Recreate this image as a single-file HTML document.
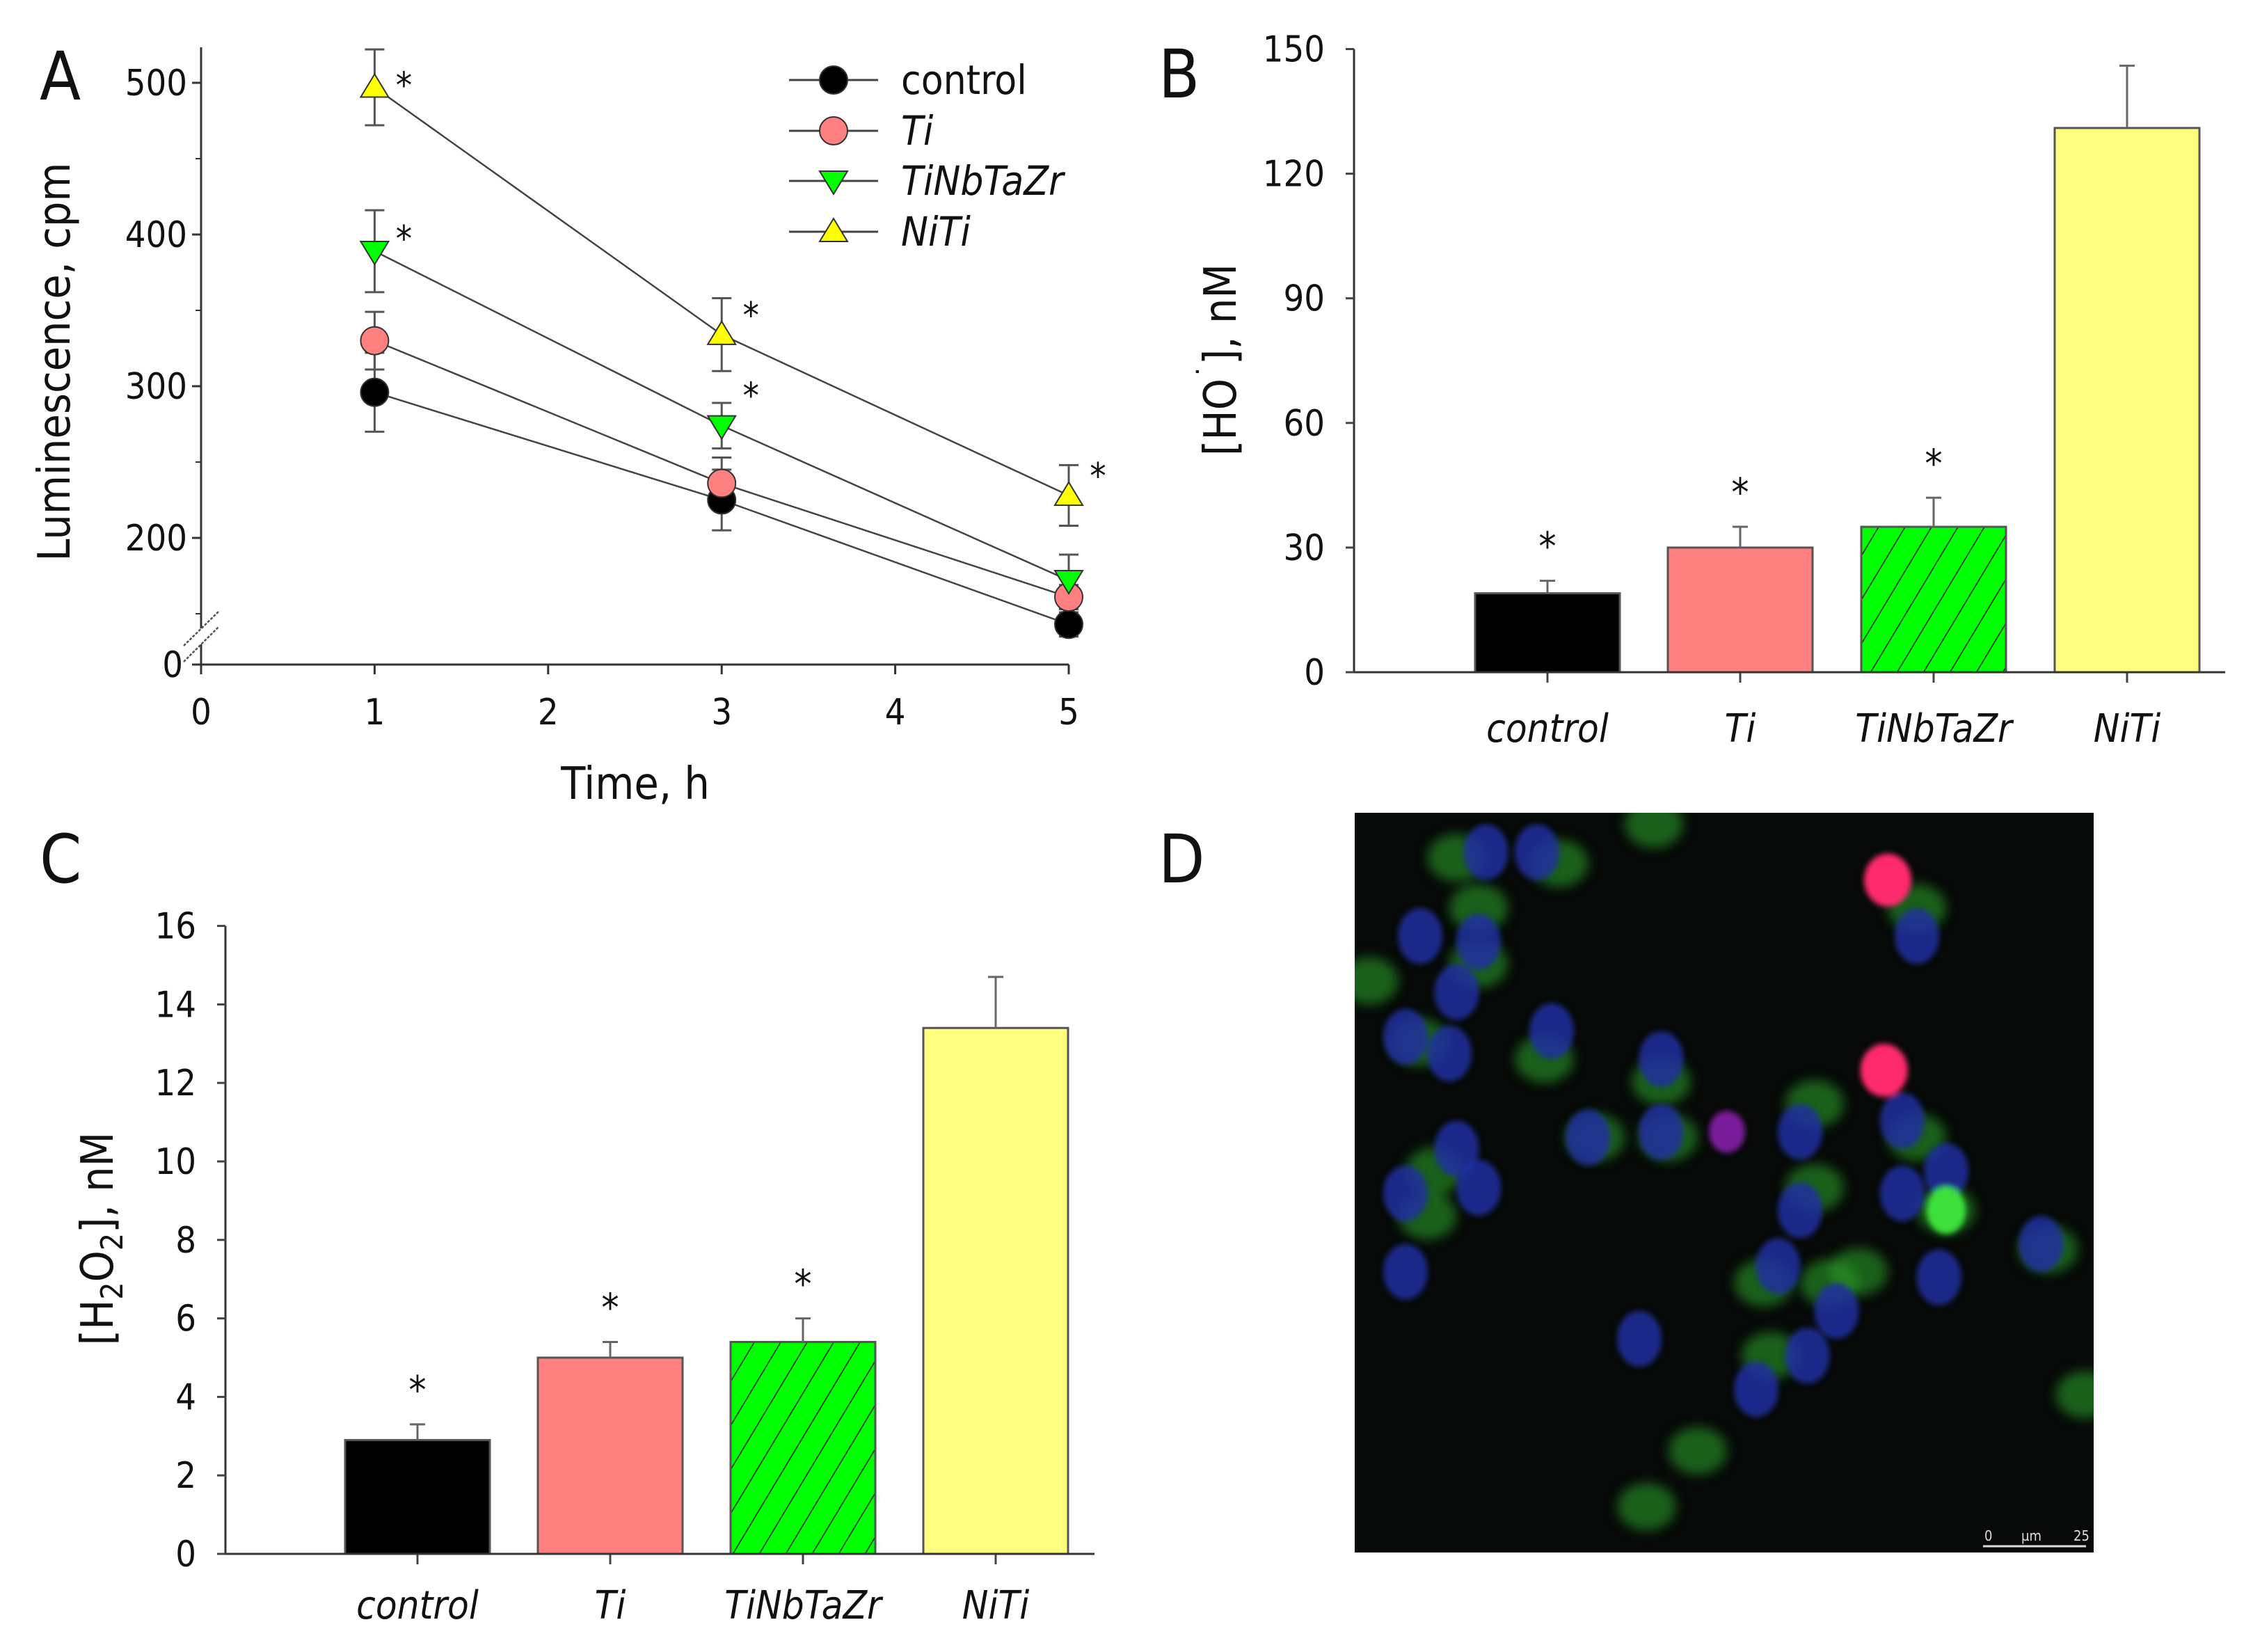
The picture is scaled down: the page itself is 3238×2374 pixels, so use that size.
<!DOCTYPE html>
<html><head><meta charset="utf-8">
<style>
html,body{margin:0;padding:0;background:#fff;}
svg{display:block;}
text{font-family:"DejaVu Sans Condensed","DejaVu Sans","Liberation Sans",sans-serif;fill:#111;}
</style></head>
<body>
<svg id="fig" xmlns="http://www.w3.org/2000/svg" width="3238" height="2374" viewBox="0 0 3238 2374">
<defs>
<pattern id="hatch" patternUnits="userSpaceOnUse" width="38" height="62" patternTransform="skewX(-31)" >
<rect width="38" height="62" fill="#00ff00"/>
<line x1="1" y1="0" x2="1" y2="62" stroke="#1a3a1a" stroke-width="2"/>
</pattern>
<filter id="blur6"><feGaussianBlur stdDeviation="8"/></filter>
<filter id="blur3"><feGaussianBlur stdDeviation="4"/></filter>
<clipPath id="imgclip"><rect x="1947" y="1168" width="1062" height="1063"/></clipPath>
</defs>
<g id="panelA"></g>
<g id="panelB"></g>
<g id="panelC"></g>
<g id="panelD"></g>
</svg>
<script>
// ---- Panel A data ----
const timesA = [1, 3, 5];
const seriesNames = ["control", "Ti", "TiNbTaZr", "NiTi"];
const controlVals = [296, 225, 143];
const tiVals = [330, 236, 161];
const tnbVals = [389, 274, 172];
const nitiVals = [497, 334, 228];
const controlErr = [26, 20, 8];
const tiErr = [19, 17, 8];
const tnbErr = [27, 15, 17];
const nitiErr = [25, 24, 20];
const starsA = [[false,false,false],[false,false,false],[true,true,false],[true,true,true]];
const xTicksA = [0, 1, 2, 3, 4, 5];
const yTicksA = [200, 300, 400, 500];
const yMinorA = [150, 250, 350, 450];
// ---- Panel B data ----
const catsB = ["control", "Ti", "TiNbTaZr", "NiTi"];
const valsB = [19, 30, 35, 131];
const errB = [3, 5, 7, 15];
const starsB = [true, true, true, false];
const yTicksB = [0, 30, 60, 90, 120, 150];
// ---- Panel C data ----
const catsC = ["control", "Ti", "TiNbTaZr", "NiTi"];
const valsC = [2.9, 5.0, 5.4, 13.4];
const errC = [0.4, 0.4, 0.6, 1.3];
const starsC = [true, true, true, false];
const yTicksC = [0, 2, 4, 6, 8, 10, 12, 14, 16];

const NS = "http://www.w3.org/2000/svg";
function mk(parent, tag, attrs, txt){
  const e = document.createElementNS(NS, tag);
  for (const k in attrs) e.setAttribute(k, attrs[k]);
  if (txt !== undefined) e.textContent = txt;
  parent.appendChild(e);
  return e;
}
const fills = ["#000000", "#ff8080", "#00ff00", "#ffff00"];
const markers = ["circle", "circle", "tdown", "tup"];

function marker(g, type, cx, cy, fill, r){
  let el;
  if (type === "circle") el = mk(g, "circle", {cx:cx, cy:cy, r:r, fill:fill, stroke:"#333", "stroke-width":2});
  else if (type === "tdown") el = mk(g, "polygon", {points:`${cx-r},${cy-r*0.7} ${cx+r},${cy-r*0.7} ${cx},${cy+r*0.95}`, fill:fill, stroke:"#333", "stroke-width":2});
  else el = mk(g, "polygon", {points:`${cx-r},${cy+r*0.7} ${cx+r},${cy+r*0.7} ${cx},${cy-r*0.95}`, fill:fill, stroke:"#333", "stroke-width":2});
  return el;
}

// ================= Panel A =================
(function(){
  const g = document.getElementById("panelA");
  const x0 = 289, xU = 249.4;
  const yAt = v => 773 - (v - 200) * 2.18;
  const xAt = t => x0 + t * xU;
  const base = 955;
  let t;
  t = mk(g, "text", {x:57, y:143, "font-size":96}, "A");
  
  
  let ax = mk(g, "path", {d:`M${x0},68 V903 M${x0},926 V${base} M${x0-13},${base} H${xAt(5)}`, stroke:"#333", "stroke-width":3, fill:"none"});
  
  
  let br = mk(g, "path", {d:`M264,928 L315,878 M264,951 L315,900`, stroke:"#555", "stroke-width":2.5, "stroke-dasharray":"4 2", fill:"none"});
  
  
  yTicksA.forEach(v => {
    const y = yAt(v);
    mk(g, "line", {x1:x0-13, x2:x0, y1:y, y2:y, stroke:"#333", "stroke-width":3});
    const l = mk(g, "text", {x:x0-20, y:y+18, "font-size":52, "text-anchor":"end"}, v);
    
    
  });
  yMinorA.forEach(v => { const y = yAt(v); mk(g, "line", {x1:x0-8, x2:x0, y1:y, y2:y, stroke:"#333", "stroke-width":2}); });
  let z = mk(g, "text", {x:x0-26, y:base+18, "font-size":52, "text-anchor":"end"}, "0");
  
  
  xTicksA.forEach(v => {
    const x = xAt(v);
    mk(g, "line", {x1:x, x2:x, y1:base, y2:base+14, stroke:"#333", "stroke-width":3});
    const l = mk(g, "text", {x:x, y:1041, "font-size":52, "text-anchor":"middle"}, v);
    
    
  });
  let xt = mk(g, "text", {x:913, y:1148, "font-size":64, "text-anchor":"middle"}, "Time, h");
  
  
  let yt = mk(g, "text", {x:0, y:0, "font-size":64, "text-anchor":"middle", transform:"translate(100,520) rotate(-90)"}, "Luminescence, cpm");
  
  
  const vals = [controlVals, tiVals, tnbVals, nitiVals];
  const errs = [controlErr, tiErr, tnbErr, nitiErr];
  vals.forEach((vs, si) => {
    const d = vs.map((v, i) => (i ? "L" : "M") + xAt(timesA[i]) + "," + yAt(v)).join(" ");
    const p = mk(g, "path", {d:d, stroke:"#444", "stroke-width":2.5, fill:"none"});
    
    
  });
  vals.forEach((vs, si) => {
    vs.forEach((v, i) => {
      const x = xAt(timesA[i]), e = errs[si][i];
      const yt2 = yAt(v + e), yb = yAt(v - e);
      const eb = mk(g, "path", {d:`M${x},${yt2} V${yb} M${x-14},${yt2} H${x+14} M${x-14},${yb} H${x+14}`, stroke:"#555", "stroke-width":3, fill:"none"});
      
      
    });
  });
  vals.forEach((vs, si) => {
    vs.forEach((v, i) => {
      const x = xAt(timesA[i]), y = yAt(v);
      const m = marker(g, markers[si], x, y, fills[si], 20);
      
      
      if (starsA[si][i]) {
        const s = mk(g, "text", {x:x + 42, y:y + (markers[si]==="tup" ? 45 : 30) - (i===0?30:55), "font-size":52, "text-anchor":"middle"}, "*");
        
        
      }
    });
  });
  const ly = [115, 188, 260, 333];
  seriesNames.forEach((n, si) => {
    const lg = mk(g, "g", {});
    
    
    mk(lg, "line", {x1:1134, x2:1262, y1:ly[si], y2:ly[si], stroke:"#444", "stroke-width":3});
    marker(lg, markers[si], 1198, ly[si], fills[si], 20);
    mk(lg, "text", {x:1295, y:ly[si] + 20, "font-size":58, "font-style": si ? "italic" : "normal"}, n);
  });
})();

function barChart(g, cfg){
  const {cats, vals, errs, stars, ticks, yAt, axisX, axisEnd, base, centers, bw, labelY, letter, letterPos} = cfg;
  let t = mk(g, "text", {x:letterPos[0], y:letterPos[1], "font-size":96}, letter);
  
  
  const barFills = ["#000000", "#ff8080", "url(#hatch)", "#ffff80"];
  cats.forEach((c, i) => {
    const x = centers[i] - bw/2, y = yAt(vals[i]);
    const r = mk(g, "rect", {x:x, y:y, width:bw, height:base - y, fill:barFills[i], stroke:"#555", "stroke-width":3});
    
    
    const ye = yAt(vals[i] + errs[i]);
    const eb = mk(g, "path", {d:`M${centers[i]},${y} V${ye} M${centers[i]-11},${ye} H${centers[i]+11}`, stroke:"#666", "stroke-width":3, fill:"none"});
    
    
    if (stars[i]) {
      const s = mk(g, "text", {x:centers[i], y:ye - 30, "font-size":56, "text-anchor":"middle"}, "*");
      
      
    }
    mk(g, "line", {x1:centers[i], x2:centers[i], y1:base, y2:base+15, stroke:"#444", "stroke-width":3});
    const l = mk(g, "text", {x:centers[i], y:labelY, "font-size":56, "font-style":"italic", "text-anchor":"middle"}, c);
    
    
  });
  const top = yAt(ticks[ticks.length-1]);
  const ax = mk(g, "path", {d:`M${axisX},${top} V${base} H${axisEnd}`, stroke:"#333", "stroke-width":3, fill:"none"});
  
  
  ticks.forEach(v => {
    const y = yAt(v);
    mk(g, "line", {x1:axisX-12, x2:axisX, y1:y, y2:y, stroke:"#444", "stroke-width":3});
    const l = mk(g, "text", {x:axisX-42, y:y+18, "font-size":52, "text-anchor":"end"}, v);
    
    
  });
}

(function(){
  const g = document.getElementById("panelB");
  const base = 966;
  barChart(g, {cats:catsB, vals:valsB, errs:errB, stars:starsB, ticks:yTicksB,
    yAt: v => base - v * 5.97, axisX:1946, axisEnd:3198, base:base,
    centers:[2224, 2501, 2779, 3057], bw:208, labelY:1066, letter:"B", letterPos:[1665,140]});
  const yt = mk(g, "text", {x:0, y:0, "font-size":64, "text-anchor":"middle", transform:"translate(1776,517) rotate(-90)"});
  
  
  yt.innerHTML = '[HO<tspan dy="-24" font-size="44">˙</tspan><tspan dy="24">], nM</tspan>';
})();

(function(){
  const g = document.getElementById("panelC");
  const base = 2233;
  barChart(g, {cats:catsC, vals:valsC, errs:errC, stars:starsC, ticks:yTicksC,
    yAt: v => base - v * 56.4, axisX:324, axisEnd:1573, base:base,
    centers:[600, 877, 1154, 1431], bw:208, labelY:2326, letter:"C", letterPos:[57,1268]});
  const yt = mk(g, "text", {x:0, y:0, "font-size":64, "text-anchor":"middle", transform:"translate(162,1780) rotate(-90)"});
  
  
  yt.innerHTML = '[H<tspan dy="14" font-size="44">2</tspan><tspan dy="-14">O</tspan><tspan dy="14" font-size="44">2</tspan><tspan dy="-14">], nM</tspan>';
})();

(function(){
  const g = document.getElementById("panelD");
  const X0 = 1947, Y0 = 1168, W = 1062, H = 1063;
  let t = mk(g, "text", {x:1665, y:1268, "font-size":96}, "D");
  
  
  const img = mk(g, "g", {"clip-path":"url(#imgclip)"});
  
  
  mk(img, "rect", {x:X0, y:Y0, width:W, height:H, fill:"#070a08"});
  const P = (dx, dy) => [1600 + dx * 1.05, 1120 + dy * 0.804];
  const green = [[470,140],[610,150],[740,80],[500,230],[500,330],[350,360],[420,470],[590,500],[750,540],[660,640],[760,640],[440,700],[430,780],[960,580],[960,730],[1100,230],[1100,640],[1140,770],[980,900],[890,900],[1020,880],[900,1030],[1280,840],[1330,1100],[800,1200],[730,1300]];
  const gcl = mk(img, "g", {filter:"url(#blur6)"});
  green.forEach(p => { const [x,y] = P(p[0],p[1]); mk(gcl, "ellipse", {cx:x, cy:y, rx:42, ry:34, fill:"#2a9a26", opacity:0.6}); });
  const nuclei = [[510,130],[580,130],[420,280],[500,290],[470,380],[400,460],[460,490],[600,450],[750,500],[470,660],[400,740],[500,730],[650,640],[750,630],[940,630],[1080,610],[1140,700],[1080,740],[940,770],[910,870],[990,950],[950,1030],[880,1090],[720,1000],[1130,890],[1270,830],[400,880],[1100,280]];
  const ncl = mk(img, "g", {filter:"url(#blur3)"});
  nuclei.forEach(p => { const [x,y] = P(p[0],p[1]); mk(ncl, "ellipse", {cx:x, cy:y, rx:32, ry:40, fill:"#1d2fa0", opacity:0.85}); });
  const [gx,gy] = P(1140,770); mk(ncl, "ellipse", {cx:gx, cy:gy, rx:28, ry:34, fill:"#3ee03a"});
  [[1060,180],[1055,520]].forEach(p => { const [x,y] = P(p[0],p[1]); mk(ncl, "ellipse", {cx:x, cy:y, rx:34, ry:38, fill:"#ff2a6e"}); });
  const [px,py] = P(840,630); mk(ncl, "ellipse", {cx:px, cy:py, rx:26, ry:30, fill:"#7a1a9a"});
  const sb = mk(img, "g", {});
  
  
  mk(sb, "text", {x:2852, y:2214, "font-size":20, style:"fill:#ddd"}, "0");
  mk(sb, "text", {x:2905, y:2214, "font-size":20, style:"fill:#ddd"}, "µm");
  mk(sb, "text", {x:2980, y:2214, "font-size":20, style:"fill:#ddd"}, "25");
  mk(sb, "line", {x1:2850, x2:2998, y1:2222, y2:2222, stroke:"#ddd", "stroke-width":3});
})();
</script>
</body></html>
